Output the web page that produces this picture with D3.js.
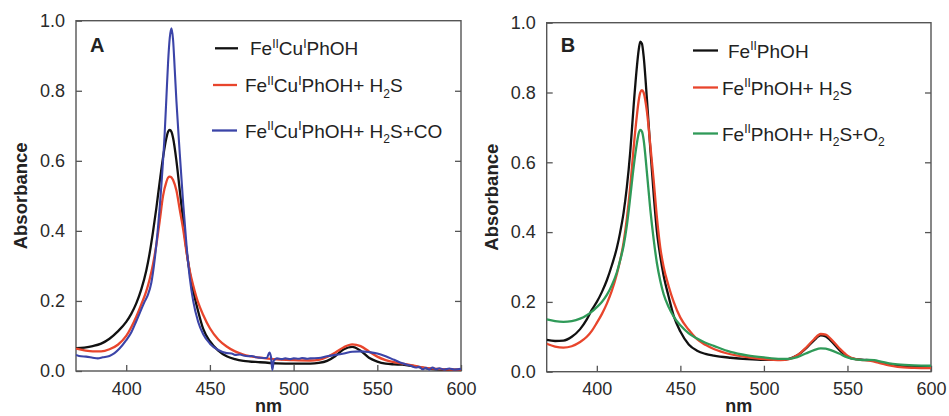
<!DOCTYPE html>
<html>
<head>
<meta charset="utf-8">
<script src="https://cdn.jsdelivr.net/npm/d3@7"></script>
<style>
  html, body { margin: 0; padding: 0; background: #fff; }
  svg { display: block; }
  text { font-family: "Liberation Sans", Arial, sans-serif; }
</style>
</head>
<body>
<svg id="chart" width="949" height="416"></svg>
<script>
// ---- Panel A: Fe(II)Cu(I)PhOH spectra ----
const aWavelength = [370,375,380,385,390,395,400,403,406,409,412,414,416,418,420,422,424,425,426,427,428,430,432,434,436,438,440,443,446,450,455,460,465,470,480,490,500,510,515,520,525,530,535,540,545,550,555,560,565,570,575,580,590,600];
const aFeCu = [0.065,0.067,0.071,0.078,0.092,0.113,0.14,0.163,0.193,0.233,0.287,0.336,0.397,0.465,0.54,0.61,0.665,0.683,0.688,0.683,0.665,0.6,0.515,0.43,0.345,0.28,0.23,0.17,0.12,0.085,0.058,0.042,0.034,0.029,0.025,0.022,0.021,0.021,0.023,0.029,0.043,0.062,0.069,0.058,0.038,0.027,0.021,0.019,0.018,0.015,0.011,0.007,0.004,0.003];
const aFeCuH2S = [0.064,0.059,0.056,0.056,0.062,0.075,0.1,0.125,0.155,0.19,0.228,0.262,0.305,0.36,0.428,0.5,0.54,0.552,0.555,0.553,0.545,0.515,0.46,0.405,0.34,0.285,0.245,0.195,0.16,0.122,0.09,0.07,0.056,0.047,0.038,0.033,0.031,0.03,0.032,0.04,0.053,0.068,0.076,0.071,0.056,0.041,0.031,0.025,0.021,0.017,0.012,0.008,0.005,0.004];
// CO trace is recorded on its own (noisier) wavelength grid
const aCoWavelength = [370,373,376,380,383,386,390,393,396,400,403,406,409,411,413,415,417,419,421,423,424,425,426,427,428,429,430,432,434,436,438,440,443,446,450,455,460,463,465,468,470,473,475,478,480,484,485.5,486.5,487.3,488.2,490,493,495,498,500,503,505,508,510,515,520,525,530,535,540,545,550,555,560,565,570,573,575,577,579,581,583,585,587,590,593,596,600];
const aFeCuH2SCO = [0.046,0.042,0.041,0.038,0.036,0.039,0.043,0.051,0.064,0.088,0.11,0.142,0.176,0.198,0.218,0.252,0.318,0.41,0.53,0.68,0.78,0.88,0.95,0.978,0.945,0.86,0.77,0.62,0.48,0.36,0.265,0.2,0.14,0.105,0.078,0.06,0.051,0.05,0.046,0.047,0.044,0.042,0.043,0.039,0.038,0.037,0.053,0.04,0.003,0.03,0.036,0.034,0.036,0.034,0.036,0.035,0.037,0.035,0.036,0.037,0.042,0.046,0.05,0.055,0.056,0.054,0.05,0.042,0.032,0.022,0.015,0.01,0.012,0.005,0.009,0.004,0.01,0.005,0.008,0.004,0.007,0.004,0.006];

// ---- Panel B: Fe(II)PhOH spectra ----
const bWavelength = [370,375,380,385,390,394,397,400,403,406,409,412,414,416,418,420,422,424,425,426,427,428,430,432,434,436,438,440,443,446,450,455,460,465,470,480,490,500,510,515,520,525,530,534,537,540,545,550,555,560,563,566,570,575,580,590,600];
const bFe = [0.091,0.088,0.089,0.1,0.122,0.15,0.177,0.2,0.228,0.262,0.305,0.355,0.4,0.455,0.53,0.63,0.76,0.875,0.92,0.946,0.94,0.905,0.78,0.64,0.51,0.4,0.33,0.275,0.215,0.16,0.115,0.078,0.06,0.051,0.046,0.04,0.036,0.034,0.034,0.037,0.047,0.066,0.09,0.104,0.101,0.089,0.063,0.043,0.036,0.034,0.033,0.031,0.026,0.021,0.017,0.014,0.013];
const bFeH2S = [0.08,0.072,0.069,0.073,0.085,0.1,0.117,0.14,0.165,0.195,0.232,0.28,0.32,0.37,0.44,0.53,0.64,0.735,0.775,0.8,0.807,0.8,0.745,0.65,0.55,0.44,0.355,0.3,0.245,0.2,0.155,0.12,0.093,0.077,0.065,0.05,0.042,0.036,0.033,0.036,0.047,0.068,0.093,0.108,0.106,0.094,0.068,0.046,0.036,0.033,0.032,0.029,0.024,0.018,0.014,0.011,0.01];
const bFeH2SO2 = [0.15,0.145,0.143,0.145,0.152,0.162,0.172,0.185,0.2,0.22,0.248,0.285,0.32,0.36,0.42,0.5,0.585,0.655,0.682,0.693,0.688,0.665,0.57,0.465,0.38,0.31,0.26,0.222,0.185,0.158,0.133,0.11,0.095,0.083,0.074,0.057,0.047,0.041,0.037,0.037,0.042,0.052,0.062,0.067,0.066,0.062,0.052,0.041,0.035,0.033,0.034,0.033,0.029,0.024,0.021,0.018,0.017];

// ---- Axes ----
const xTicks = [400, 450, 500, 550, 600];
const yTicks = [0.0, 0.2, 0.4, 0.6, 0.8, 1.0];
const xDomain = [370, 600];
const yDomain = [0, 1.0];

// ---- Legend labels (sup / sub marked per segment) ----
const legendA = [
  [["Fe"], ["II", "sup"], ["Cu"], ["I", "sup"], ["PhOH"]],
  [["Fe"], ["II", "sup"], ["Cu"], ["I", "sup"], ["PhOH+ H"], ["2", "sub"], ["S"]],
  [["Fe"], ["II", "sup"], ["Cu"], ["I", "sup"], ["PhOH+ H"], ["2", "sub"], ["S+CO"]]
];
const legendB = [
  [["Fe"], ["II", "sup"], ["PhOH"]],
  [["Fe"], ["II", "sup"], ["PhOH+ H"], ["2", "sub"], ["S"]],
  [["Fe"], ["II", "sup"], ["PhOH+ H"], ["2", "sub"], ["S+O"], ["2", "sub"]]
];

const colors = { black: "#111111", red: "#e8452c", blue: "#3b44a8", green: "#2f9a58" };

const svg = d3.select("#chart");

function drawPanel(cfg) {
  const x = d3.scaleLinear().domain(xDomain).range([cfg.left, cfg.right]);
  const y = d3.scaleLinear().domain(yDomain).range([cfg.bottom, cfg.top]);
  const g = svg.append("g");

  const clipId = "clip-" + cfg.id;
  svg.append("clipPath").attr("id", clipId)
    .append("rect")
    .attr("x", cfg.left).attr("y", cfg.top)
    .attr("width", cfg.right - cfg.left).attr("height", cfg.bottom - cfg.top);

  // left axis with labels, ticks pointing inward
  const left = g.append("g").attr("transform", `translate(${cfg.left},0)`)
    .call(d3.axisLeft(y).tickValues(yTicks).tickFormat(d3.format(".1f"))
      .tickSize(-6).tickPadding(11));
  // bottom axis
  const bottom = g.append("g").attr("transform", `translate(0,${cfg.bottom})`)
    .call(d3.axisBottom(x).tickValues(xTicks).tickFormat(d3.format("d"))
      .tickSize(-6).tickPadding(11));
  // right axis ticks only
  const right = g.append("g").attr("transform", `translate(${cfg.right},0)`)
    .call(d3.axisRight(y).tickValues(yTicks.slice(1, -1)).tickFormat("")
      .tickSize(-6));

  [left, bottom, right].forEach(a => {
    a.select(".domain").remove();
    a.selectAll(".tick line").attr("stroke", "#555").attr("stroke-width", 1.3);
    a.selectAll(".tick text")
      .attr("font-family", "Liberation Sans, Arial, sans-serif")
      .attr("font-size", 18).attr("fill", "#2a2a2a");
  });

  // frame
  g.append("rect")
    .attr("x", cfg.left).attr("y", cfg.top)
    .attr("width", cfg.right - cfg.left).attr("height", cfg.bottom - cfg.top)
    .attr("fill", "none").attr("stroke", "#555").attr("stroke-width", 1.4);

  // axis titles
  g.append("text")
    .attr("x", (cfg.left + cfg.right) / 2).attr("y", 412)
    .attr("text-anchor", "middle").attr("font-weight", "bold")
    .attr("font-size", 18).attr("fill", "#222").text("nm");
  g.append("text")
    .attr("transform", `translate(${cfg.left - 49},${(cfg.top + cfg.bottom) / 2}) rotate(-90)`)
    .attr("text-anchor", "middle").attr("font-weight", "bold")
    .attr("font-size", 18.5).attr("fill", "#222").text("Absorbance");

  // panel letter
  g.append("text")
    .attr("x", cfg.left + 14).attr("y", 52)
    .attr("font-family", "Liberation Serif, Times New Roman, serif")
    .attr("font-weight", "bold").attr("font-size", 20).attr("fill", "#222")
    .text(cfg.letter);

  // spectra
  const line = d3.line().curve(d3.curveMonotoneX)
    .x(d => x(d[0])).y(d => y(d[1]));
  const lines = g.append("g").attr("clip-path", `url(#${clipId})`);
  cfg.series.forEach(s => {
    lines.append("path")
      .datum(s.wl.map((w, i) => [w, s.values[i]]))
      .attr("fill", "none").attr("stroke", s.color)
      .attr("stroke-width", s.width || 2.3)
      .attr("stroke-linejoin", "round")
      .attr("d", line);
  });

  // legend
  cfg.series.forEach((s, i) => {
    const L = cfg.legend[i];
    g.append("line")
      .attr("x1", L.x1).attr("x2", L.x2).attr("y1", L.y).attr("y2", L.y)
      .attr("stroke", s.color).attr("stroke-width", 2.3);
    const t = g.append("text")
      .attr("x", L.tx).attr("y", L.y + 7)
      .attr("font-size", 19).attr("fill", "#222");
    let shift = 0;
    cfg.labels[i].forEach(([str, kind]) => {
      const target = kind === "sup" ? -7.5 : kind === "sub" ? 5.5 : 0;
      t.append("tspan")
        .attr("dy", target - shift)
        .attr("font-size", kind ? 12 : 19)
        .text(str);
      shift = target;
    });
  });
}

drawPanel({
  id: "a", letter: "A",
  left: 76, right: 461, top: 20.7, bottom: 371,
  series: [
    { wl: aWavelength, values: aFeCu, color: colors.black },
    { wl: aWavelength, values: aFeCuH2S, color: colors.red },
    { wl: aCoWavelength, values: aFeCuH2SCO, color: colors.blue, width: 2.1 }
  ],
  labels: legendA,
  legend: [
    { x1: 215, x2: 238, y: 48.3, tx: 250 },
    { x1: 213, x2: 237, y: 85, tx: 245 },
    { x1: 212, x2: 237, y: 130.5, tx: 245 }
  ]
});

drawPanel({
  id: "b", letter: "B",
  left: 546.7, right: 931, top: 22.7, bottom: 371.7,
  series: [
    { wl: bWavelength, values: bFe, color: colors.black },
    { wl: bWavelength, values: bFeH2S, color: colors.red },
    { wl: bWavelength, values: bFeH2SO2, color: colors.green }
  ],
  labels: legendB,
  legend: [
    { x1: 693, x2: 718, y: 50.5, tx: 728 },
    { x1: 693, x2: 718, y: 87.5, tx: 722 },
    { x1: 693, x2: 718, y: 133.5, tx: 722 }
  ]
});
</script>
</body>
</html>
